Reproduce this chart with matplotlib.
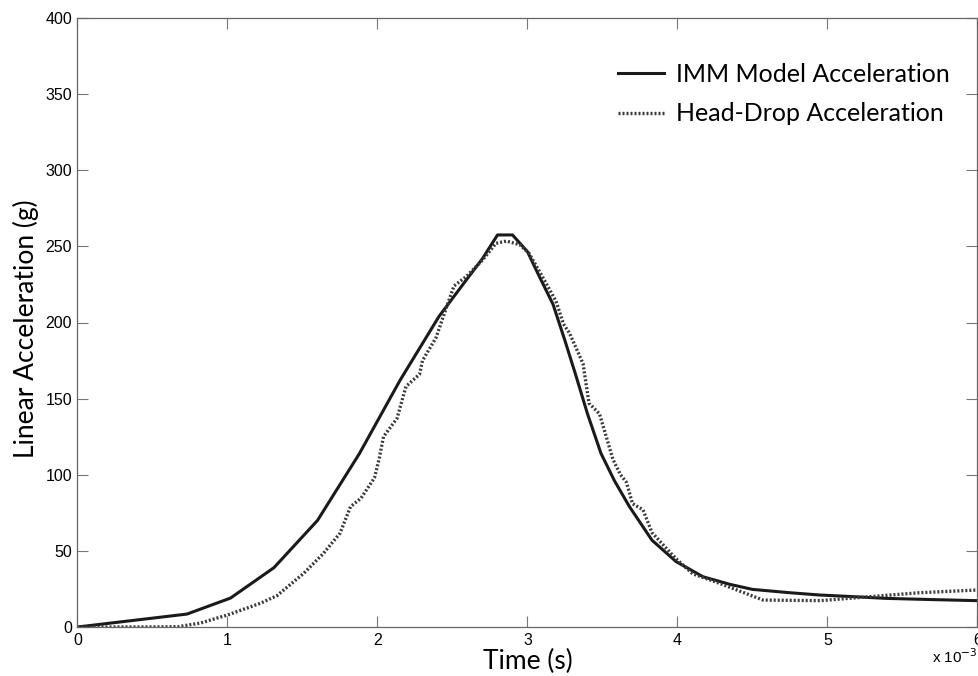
import numpy as np
import matplotlib
matplotlib.use("Agg")
import matplotlib.pyplot as plt

# dados (tempo em ms, aceleracao em g)
t_imm = [0, 0.73, 1.02, 1.31, 1.60, 1.88, 2.15, 2.41, 2.60, 2.70, 2.80, 2.90,
         3.00, 3.08, 3.17, 3.25, 3.32, 3.40, 3.49, 3.58, 3.68, 3.83, 3.99,
         4.17, 4.35, 4.50, 4.75, 4.95, 5.20, 5.39, 5.70, 6.0]
a_imm = [0, 8.5, 19, 39, 70, 114, 162, 204, 229, 242, 257.5, 257.5,
         246.5, 230, 212, 188, 166, 140, 114, 96, 79, 57, 43,
         33, 28, 24.7, 22.5, 21, 19.8, 18.8, 18, 17.3]

t_head = [0, 0.4, 0.67, 0.82, 1.0, 1.22, 1.33, 1.51, 1.64, 1.75, 1.82, 1.89,
          1.98, 2.01, 2.04, 2.13, 2.19, 2.28, 2.30, 2.39, 2.46, 2.51, 2.59,
          2.70, 2.79, 2.86, 2.95, 3.01, 3.10, 3.19, 3.24, 3.28, 3.37, 3.41,
          3.48, 3.57, 3.62, 3.66, 3.70, 3.77, 3.83, 3.96, 4.0, 4.10, 4.28,
          4.57, 4.95, 5.28, 5.61, 6.0]
a_head = [0, 0, 0.2, 2.6, 7.9, 15.6, 20.6, 35.4, 48.4, 61.6, 79, 84.6,
          98, 110, 125, 137, 158, 166, 175, 190, 210, 224, 230,
          241, 252, 253.5, 251, 245.5, 230, 214, 199, 193, 173, 147,
          140, 110, 100, 95, 81, 77, 62, 48, 44, 35, 28.7,
          17.7, 17.3, 19.9, 22.5, 24.3]

xticks = [0, 1, 2, 3, 4, 5, 6]
yticks = [0, 50, 100, 150, 200, 250, 300, 350, 400]

label_font = ['Lato', 'DejaVu Sans']
tick_font = ['Liberation Sans', 'DejaVu Sans']

fig = plt.figure(figsize=(9.79, 6.76), dpi=100)
ax = fig.add_axes([77.5/979, 49/676, 900/979, 609/676])

ax.plot(t_imm, a_imm, color='#1a1a1a', lw=2.2, label='IMM Model Acceleration')
ax.plot(t_head, a_head, color='#3a3a3a', lw=2.4, linestyle=(0, (0.6, 0.6)),
        label='Head-Drop Acceleration')

ax.set_xlim(0, 6)
ax.set_ylim(0, 400)
ax.set_xticks(xticks)
ax.set_yticks(yticks)
ax.tick_params(direction='in', length=8, width=0.8, color='#777777',
               top=True, right=True, labelsize=11.5, pad=4)
for lb in ax.get_xticklabels() + ax.get_yticklabels():
    lb.set_family(tick_font)
for s in ax.spines.values():
    s.set_color('#666666')
    s.set_linewidth(0.9)

ax.set_xlabel('Time (s)', family=label_font, fontsize=19)
ax.set_ylabel('Linear Acceleration (g)', family=label_font, fontsize=19)
ax.xaxis.set_label_coords(0.5, -0.036)
ax.yaxis.set_label_coords(-0.043, 0.49)

ax.text(1.0, -0.033, r'x 10$^{-3}$', transform=ax.transAxes, ha='right',
        va='top', family=tick_font, fontsize=11)

leg = ax.legend(loc='upper right', bbox_to_anchor=(0.994, 0.963), frameon=False,
                prop={'family': label_font, 'size': 18}, handlelength=1.84,
                handletextpad=0.48, labelspacing=0.65)

fig.savefig('out.png', dpi=100)
